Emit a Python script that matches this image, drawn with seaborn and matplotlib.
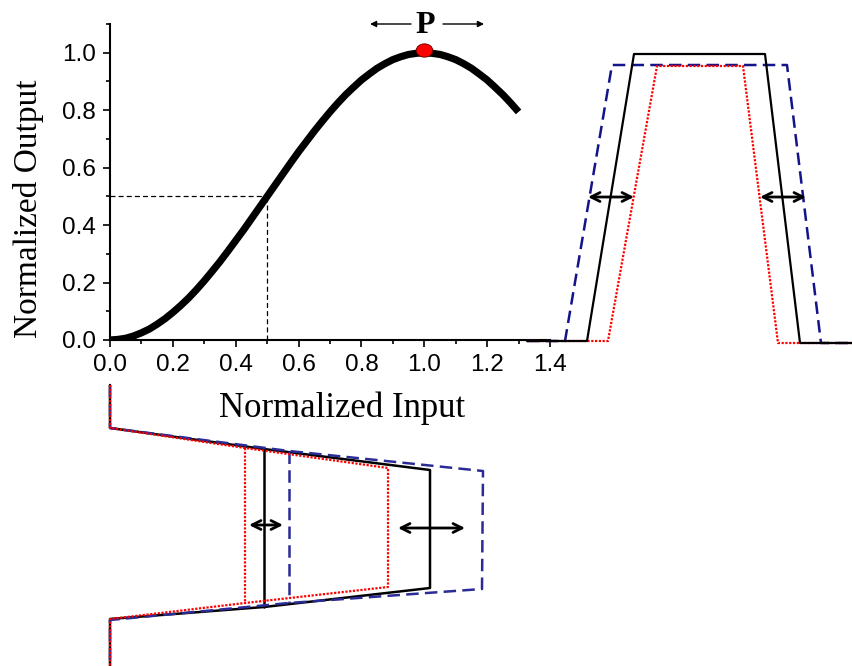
import numpy as np
import matplotlib
matplotlib.use("Agg")
import matplotlib.pyplot as plt
import seaborn as sns
from matplotlib.path import Path

# ---------------- data ----------------
# main transfer curve (Normalized Input vs Normalized Output)
curve_x = [0.000, 0.025, 0.050, 0.075, 0.100, 0.125, 0.150, 0.175, 0.200, 0.225,
           0.250, 0.275, 0.300, 0.325, 0.350, 0.375, 0.400, 0.425, 0.450, 0.475,
           0.500, 0.525, 0.550, 0.575, 0.600, 0.625, 0.650, 0.675, 0.700, 0.725,
           0.750, 0.775, 0.800, 0.825, 0.850, 0.875, 0.900, 0.925, 0.950, 0.975,
           1.000, 1.025, 1.050, 1.075, 1.100, 1.125, 1.150, 1.175, 1.200, 1.225,
           1.250, 1.275, 1.300]
curve_y = [0.000, 0.002, 0.006, 0.014, 0.025, 0.038, 0.055, 0.074, 0.096, 0.120,
           0.146, 0.175, 0.206, 0.239, 0.273, 0.309, 0.346, 0.383, 0.422, 0.461,
           0.500, 0.539, 0.578, 0.617, 0.655, 0.691, 0.727, 0.761, 0.794, 0.825,
           0.854, 0.880, 0.905, 0.926, 0.946, 0.962, 0.976, 0.986, 0.994, 0.998,
           1.000, 0.998, 0.994, 0.986, 0.976, 0.962, 0.946, 0.926, 0.905, 0.880,
           0.854, 0.825, 0.794]
point_x = [1.0]
point_y = [1.01]
guide_x = 0.5
guide_y = 0.5

x_ticks = [0.0, 0.2, 0.4, 0.6, 0.8, 1.0, 1.2, 1.4]
x_tick_labels = ["0.0", "0.2", "0.4", "0.6", "0.8", "1.0", "1.2", "1.4"]
y_ticks = [0.0, 0.2, 0.4, 0.6, 0.8, 1.0]
y_tick_labels = ["0.0", "0.2", "0.4", "0.6", "0.8", "1.0"]

# sketch diagrams (sketch coordinates, y grows downward)
trap_black_x = [527, 587, 634, 765, 800, 852]
trap_black_y = [341, 341, 54, 54, 343, 343]
trap_blue_x = [527, 565, 612, 787, 821, 852]
trap_blue_y = [341, 341, 65, 65, 343, 343]
trap_red_x = [527, 608, 657, 743, 778, 852]
trap_red_y = [341, 341, 66, 66, 343, 343]
trap_arrows = [((588, 197), (634, 197)), ((760, 197), (806, 197))]

fun_black_x = [110, 110, 264, 430, 430, 264, 110, 110]
fun_black_y = [385, 428, 449, 470, 588, 607, 619, 666]
fun_black_inner = ([264, 264], [449, 607])
fun_blue_x = [110, 110, 289, 483, 482, 289, 110, 110]
fun_blue_y = [385, 428, 451, 471, 589, 603, 620, 666]
fun_blue_inner = ([289, 289], [451, 603])
fun_red_x = [110, 110, 245, 388, 388, 245, 110, 110]
fun_red_y = [385, 428, 448, 468, 587, 603, 619, 666]
fun_red_inner = ([245, 245], [448, 603])
fun_arrows = [((249, 525), (283, 525)), ((398, 528), (465, 528))]

p_label = "P"
p_arrows = [((411, 24), (370, 24)), ((443, 24), (484, 24))]

# ---------------- style ----------------
sns.set_theme(style="ticks")
plt.rcParams["font.family"] = ["Liberation Sans", "DejaVu Sans"]
plt.rcParams["text.color"] = "black"

W, H = 852, 666
fig = plt.figure(figsize=(W / 100, H / 100), dpi=100)
fig.patch.set_facecolor("white")

ax = fig.add_axes([110 / W, (H - 340) / H, 440 / W, 316 / H])
ax.set_facecolor("none")
sns.lineplot(x=curve_x, y=curve_y, ax=ax, color="black", lw=5.2,
             solid_capstyle="butt", solid_joinstyle="round",
             sort=False, estimator=None, zorder=3)

# dashed guides
ax.plot([0, guide_x], [guide_y, guide_y], color="black", lw=0.9,
        linestyle=(0, (4, 2.5)), zorder=2)
ax.plot([guide_x, guide_x], [0, guide_y], color="black", lw=0.9,
        linestyle=(0, (4, 2.5)), zorder=2)

# red operating point (slightly elliptical)
circ = Path.unit_circle()
ell = Path(circ.vertices * np.array([1.0, 0.8]), circ.codes)
ax.plot(point_x, point_y, linestyle="none", marker=ell, ms=12, mfc="#ff0000",
        mec="#5a0000", mew=0.6, zorder=6, clip_on=False)

ax.set_xlim(0, 1.4)
ax.set_ylim(0, 1.1)
ax.set_xticks(x_ticks)
ax.set_xticklabels(x_tick_labels)
ax.set_yticks(y_ticks)
ax.set_yticklabels(y_tick_labels)
ax.set_xticks(np.arange(0.1, 1.4, 0.2), minor=True)
ax.set_yticks([0.1, 0.3, 0.5, 0.7, 0.9, 1.1], minor=True)
for s in ["top", "right"]:
    ax.spines[s].set_visible(False)
for s in ["left", "bottom"]:
    ax.spines[s].set_linewidth(1.5)
    ax.spines[s].set_color("black")
ax.tick_params(axis="both", which="major", direction="out", length=5, width=1.2,
               colors="black", labelcolor="black", labelsize=17.5, pad=5)
ax.tick_params(axis="both", which="minor", direction="out", length=3, width=1.2,
               colors="black")
ax.set_xlabel("")
ax.set_ylabel("")

# ---------------- sketch overlay ----------------
ov = fig.add_axes([0, 0, 1, 1])
ov.set_xlim(0, W)
ov.set_ylim(H, 0)
ov.axis("off")
ov.patch.set_alpha(0)

blue = "#14148a"
blue2 = "#2b2b98"
red = "#ff0000"
dash = (0, (5, 2.5))
dot = (0, (1, 0.7))

# right trapezoid
ov.plot(trap_blue_x, trap_blue_y, color=blue, lw=1.8, linestyle=dash)
ov.plot(trap_red_x, trap_red_y, color=red, lw=1.6, linestyle=dot)
ov.plot(trap_black_x, trap_black_y, color="black", lw=1.6)
for a, b in trap_arrows:
    ov.annotate("", xy=b, xytext=a,
                arrowprops=dict(arrowstyle="<->", lw=2, color="black",
                                mutation_scale=16, shrinkA=0, shrinkB=0))

# bottom funnel
ov.plot(fun_black_x, fun_black_y, color="black", lw=1.8)
ov.plot(*fun_black_inner, color="black", lw=1.8)
ov.plot(fun_blue_x, fun_blue_y, color=blue2, lw=1.8, linestyle=dash)
ov.plot(*fun_blue_inner, color=blue2, lw=1.8, linestyle=dash)
ov.plot(fun_red_x, fun_red_y, color=red, lw=1.6, linestyle=dot)
ov.plot(*fun_red_inner, color=red, lw=1.6, linestyle=dot)
for a, b in fun_arrows:
    ov.annotate("", xy=b, xytext=a,
                arrowprops=dict(arrowstyle="<->", lw=2, color="black",
                                mutation_scale=16, shrinkA=0, shrinkB=0))

# P label with arrows
ov.text(425, 33, p_label, ha="center", va="baseline", fontsize=23,
        fontweight="bold", color="black",
        family=["Liberation Serif", "DejaVu Serif"])
for a, b in p_arrows:
    ov.annotate("", xy=b, xytext=a,
                arrowprops=dict(arrowstyle="-|>", lw=1, color="black",
                                mutation_scale=9, shrinkA=0, shrinkB=0))

# axis titles
ov.text(342, 417, "Normalized Input", ha="center", va="baseline", fontsize=25,
        color="black", family=["Liberation Serif", "DejaVu Serif"])
ov.text(37, 209, "Normalized Output", ha="center", va="baseline", fontsize=24,
        color="black", rotation=90, rotation_mode="anchor",
        family=["Liberation Serif", "DejaVu Serif"])

fig.savefig("out.png", dpi=100, facecolor="white")
